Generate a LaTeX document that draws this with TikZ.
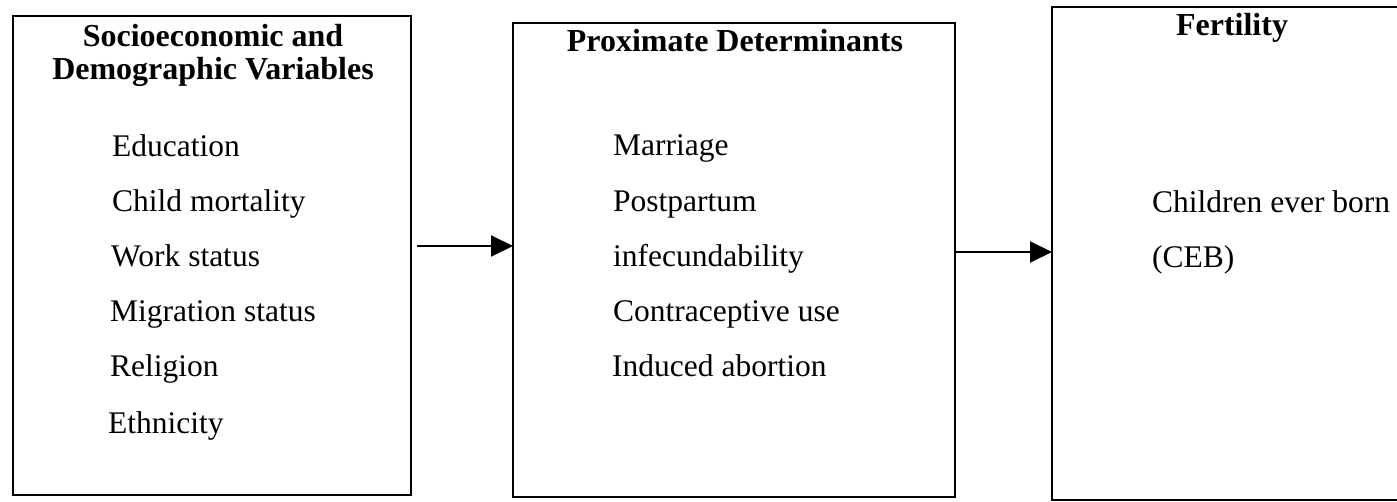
\documentclass[tikz,border=0pt]{standalone}
\usepackage{fontspec}
\setmainfont{Liberation Serif}
\usetikzlibrary{arrows.meta}
\begin{document}
\begin{tikzpicture}[x=1pt,y=-1pt,
  frame/.style={draw=black, line width=2.4pt, inner sep=0pt, outer sep=0pt},
  itm/.style={anchor=base west, inner sep=0pt, font=\fontsize{31.5}{33}\selectfont},
  ttl/.style={anchor=base, inner sep=0pt, font=\fontsize{32}{34}\selectfont\bfseries},
  link/.style={line width=2pt, -{Triangle[length=22pt,width=21pt]}}]
\useasboundingbox[fill=white] (0,0) rectangle (1397,502);
% boxes
\node[frame, minimum width=398pt, minimum height=479pt] (se) at (212,255.5) {};
\node[frame, minimum width=442pt, minimum height=474pt] (pd) at (734,260) {};
\node[frame, minimum width=360pt, minimum height=493pt] (fe) at (1232,253.5) {};
% titles
\node[ttl] (t1a) at (213,47) {Socioeconomic and};
\node[ttl] (t1b) at (213,80) {Demographic Variables};
\node[ttl] (t2) at (735,52) {Proximate Determinants};
\node[ttl] (t3) at (1232,36) {Fertility};
% left items
\node[itm] (l1) at (112,157) {Education};
\node[itm] (l2) at (112,212) {Child mortality};
\node[itm] (l3) at (111,267) {Work status};
\node[itm] (l4) at (110,322) {Migration status};
\node[itm] (l5) at (110,377) {Religion};
\node[itm] (l6) at (108,433) {Ethnicity};
% middle items
\node[itm] (m1) at (613,156) {Marriage};
\node[itm] (m2) at (613,212) {Postpartum};
\node[itm] (m3) at (613,267) {infecundability};
\node[itm] (m4) at (613,322) {Contraceptive use};
\node[itm] (m5) at (612,377) {Induced abortion};
% right items
\node[itm] (r1) at (1152,213) {Children ever born};
\node[itm] (r2) at (1152,268) {(CEB)};
% arrows
\coordinate (a1s) at ([shift={(6,-9.5)}]se.east);
\coordinate (a2s) at ([shift={(1,-8)}]pd.east);
\draw[link] (a1s) -- (a1s -| pd.west);
\draw[link] (a2s) -- (a2s -| fe.west);
\end{tikzpicture}
\end{document}
